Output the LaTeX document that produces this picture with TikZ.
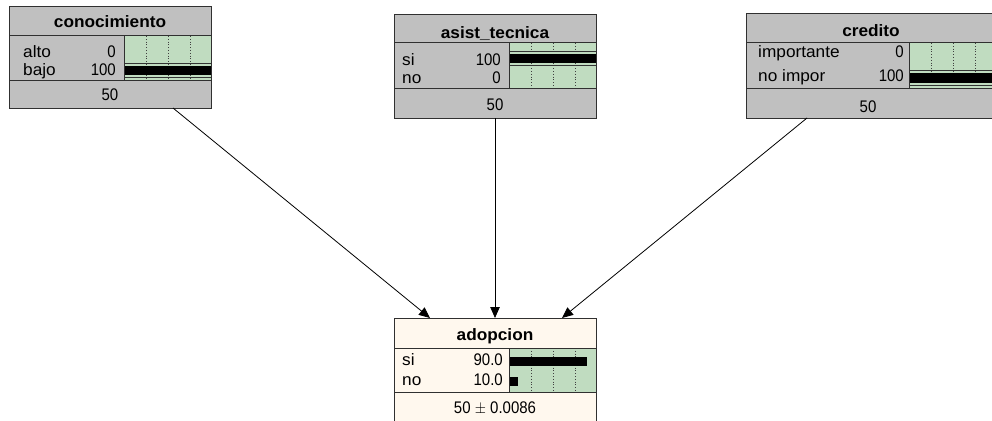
\documentclass[tikz,border=0pt]{standalone}
\usepackage{fontspec}
\usepackage{graphicx}
\setmainfont{Liberation Sans}
\usetikzlibrary{arrows.meta}
\definecolor{boxgray}{HTML}{C0C0C0}
\definecolor{bargreen}{HTML}{C0DCC0}
\definecolor{cream}{HTML}{FFF8EE}
\definecolor{edge}{HTML}{303030}
% letters are set wide and a little tall, digits only tall
\newcommand{\wide}[1]{\scalebox{1.15}[1.1]{#1}}
\newcommand{\tall}[1]{\scalebox{1.0}[1.12]{#1}}
\begin{document}
\begin{tikzpicture}[x=1pt,y=-1pt,
  netbox/.style={draw=edge, line width=1pt, inner sep=0pt, outer sep=0pt, anchor=north west},
  ttl/.style={font=\fontsize{15}{18}\selectfont\bfseries, inner sep=0pt, anchor=base},
  lbl/.style={font=\fontsize{15}{18}\selectfont, inner sep=0pt, anchor=base west},
  val/.style={font=\fontsize{15}{18}\selectfont, inner sep=0pt, anchor=base east},
  mid/.style={font=\fontsize{15}{18}\selectfont, inner sep=0pt, anchor=base},
  sep/.style={draw=edge, line width=1pt},
  chart/.style={fill=bargreen},
  gridline/.style={draw=black!75, dotted, line width=0.8pt},
  barline/.style={draw=black!80, line width=0.9pt},
  link/.style={draw=black, line width=0.8pt, -{Triangle[length=11pt,width=9.5pt]}}]
\useasboundingbox (0,0) rectangle (992,420);
\fill[white] (0,0) rectangle (992,420);

% ---------- conocimiento ----------
\node[netbox, fill=boxgray, minimum width=202pt, minimum height=101pt] (con) at (9,7) {};
\fill[chart] (124,36) rectangle (211,80);
\foreach \g in {146,168,190} \draw[gridline] (\g,36) -- (\g,80);
\draw[barline] (124,63.3) -- (211,63.3) (124,77.7) -- (211,77.7);
\fill[black] (124,66) rectangle (211,75.3);
\draw[sep] (9,36) -- (211,36) (9,80) -- (211,80) (124,36) -- (124,80);
\draw[edge, line width=1pt] (9,7) rectangle (211,108);
\node[ttl] (conT) at (110,28) {\wide{conocimiento}};
\node[lbl] (conL1) at (23,58) {\wide{alto}};
\node[lbl] (conL2) at (23,75) {\wide{bajo}};
\node[val] (conV1) at (116,58) {\tall{0}};
\node[val] (conV2) at (116,75) {\tall{100}};
\node[mid] (conM) at (110,100) {\tall{50}};

% ---------- asist_tecnica ----------
\node[netbox, fill=boxgray, minimum width=202pt, minimum height=103pt] (asi) at (394,15) {};
\fill[chart] (509,43) rectangle (596,88);
\foreach \g in {531,553,575} \draw[gridline] (\g,43) -- (\g,88);
\draw[barline] (509,51.5) -- (596,51.5) (509,65) -- (596,65);
\fill[black] (509,54) rectangle (596,63.3);
\draw[sep] (394,43) -- (596,43) (394,88) -- (596,88) (509,43) -- (509,88);
\draw[edge, line width=1pt] (394,15) rectangle (596,118);
\node[ttl] (asiT) at (495,38) {\wide{asist\_tecnica}};
\node[lbl] (asiL1) at (402,65) {\wide{si}};
\node[lbl] (asiL2) at (402,83) {\wide{no}};
\node[val] (asiV1) at (501,65) {\tall{100}};
\node[val] (asiV2) at (501,83) {\tall{0}};
\node[mid] (asiM) at (495,110) {\tall{50}};

% ---------- credito ----------
\node[netbox, fill=boxgray, minimum width=250pt, minimum height=104pt] (cre) at (746,14) {};
\fill[chart] (909,43) rectangle (996,88);
\foreach \g in {931,953,975} \draw[gridline] (\g,43) -- (\g,88);
\draw[barline] (909,70.5) -- (996,70.5) (909,85.5) -- (996,85.5);
\fill[black] (909,73.3) rectangle (996,83.3);
\draw[sep] (746,43) -- (996,43) (746,88) -- (996,88) (909,43) -- (909,88);
\draw[edge, line width=1pt] (746,14) rectangle (996,118);
\node[ttl] (creT) at (871,37) {\wide{credito}};
\node[lbl] (creL1) at (758,58) {\wide{importante}};
\node[lbl] (creL2) at (758,81.5) {\wide{no impor}};
\node[val] (creV1) at (904,58) {\tall{0}};
\node[val] (creV2) at (904,81.5) {\tall{100}};
\node[mid] (creM) at (868,112) {\tall{50}};

% ---------- adopcion ----------
\node[netbox, fill=cream, minimum width=202pt, minimum height=103pt] (ado) at (394,318) {};
\fill[chart] (509,348) rectangle (596,392);
\foreach \g in {531,553,575} \draw[gridline] (\g,348) -- (\g,392);
\fill[black] (509,356.7) rectangle (587,365.7);
\fill[black] (509,376.7) rectangle (518,386);
\draw[sep] (394,348) -- (596,348) (394,392) -- (596,392) (509,348) -- (509,392);
\draw[edge, line width=1pt] (394,318) rectangle (596,421);
\node[ttl] (adoT) at (495,340) {\wide{adopcion}};
\node[lbl] (adoL1) at (402,365) {\wide{si}};
\node[lbl] (adoL2) at (402,385) {\wide{no}};
\node[val] (adoV1) at (503,365) {\tall{90.0}};
\node[val] (adoV2) at (503,385) {\tall{10.0}};
\node[mid] (adoM) at (495,413) {\tall{50 $\pm$ 0.0086}};

% ---------- links ----------
\draw[link] ([xshift=63pt]con.south) -- ([xshift=-65pt]ado.north);
\draw[link] (asi.south) -- (ado.north);
\draw[link] ([xshift=-64pt]cre.south) -- ([xshift=67pt]ado.north);
\end{tikzpicture}
\end{document}
